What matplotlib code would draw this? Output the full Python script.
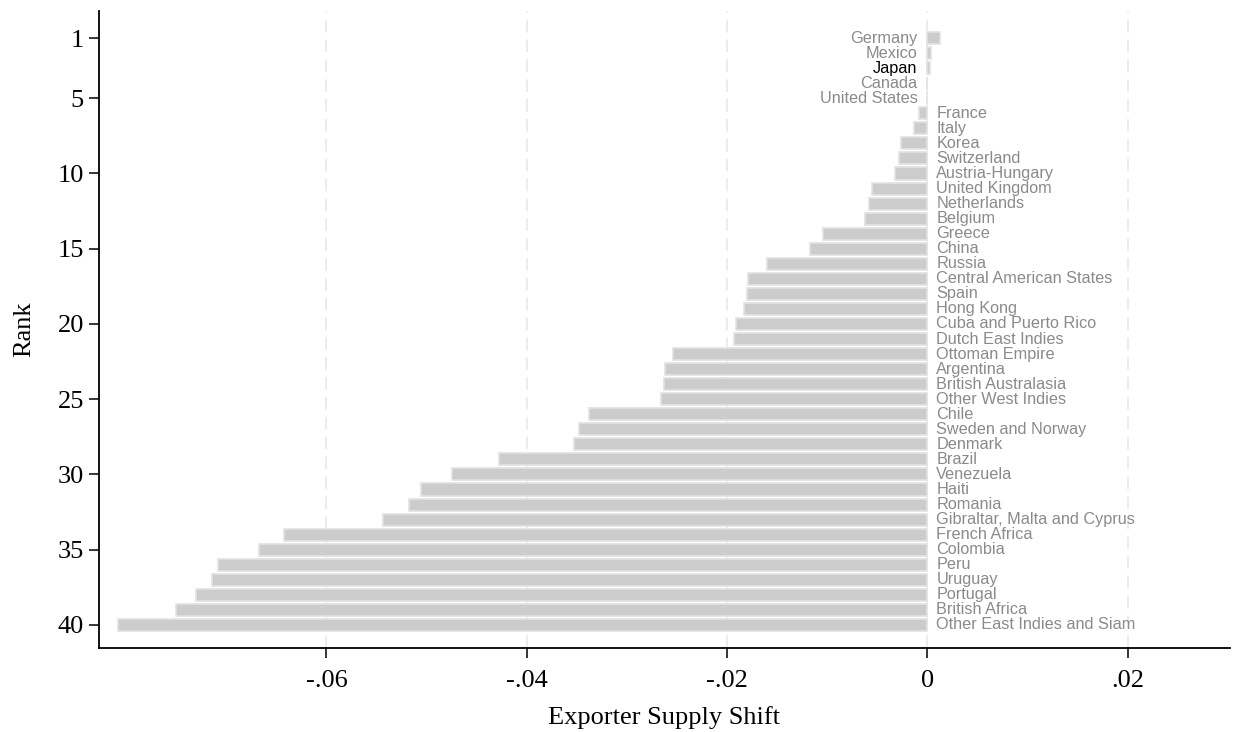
import matplotlib
matplotlib.use("Agg")
import matplotlib.pyplot as plt

# data
countries = [
    "Germany", "Mexico", "Japan", "Canada", "United States",
    "France", "Italy", "Korea", "Switzerland", "Austria-Hungary",
    "United Kingdom", "Netherlands", "Belgium", "Greece", "China",
    "Russia", "Central American States", "Spain", "Hong Kong", "Cuba and Puerto Rico",
    "Dutch East Indies", "Ottoman Empire", "Argentina", "British Australasia", "Other West Indies",
    "Chile", "Sweden and Norway", "Denmark", "Brazil", "Venezuela",
    "Haiti", "Romania", "Gibraltar, Malta and Cyprus", "French Africa", "Colombia",
    "Peru", "Uruguay", "Portugal", "British Africa", "Other East Indies and Siam",
]
ranks = list(range(1, 41))
shift = [
    0.0013, 0.0004, 0.0003, 0.0, 0.0,
    -0.0008, -0.0013, -0.0026, -0.0028, -0.0032,
    -0.0055, -0.0058, -0.0062, -0.0104, -0.0117,
    -0.0160, -0.0179, -0.0180, -0.0183, -0.0191,
    -0.0193, -0.0254, -0.0262, -0.0263, -0.0266,
    -0.0338, -0.0348, -0.0353, -0.0428, -0.0475,
    -0.0506, -0.0518, -0.0543, -0.0642, -0.0667,
    -0.0708, -0.0714, -0.0730, -0.0750, -0.0808,
]
highlight = "Japan"
xticks = [-0.06, -0.04, -0.02, 0, 0.02]
xtick_labels = ["-.06", "-.04", "-.02", "0", ".02"]
yticks = [1, 5, 10, 15, 20, 25, 30, 35, 40]

serif = "Liberation Serif"
sans = "Liberation Sans"

fig = plt.figure(figsize=(12.46, 7.32), dpi=100)
ax = fig.add_axes([0.0795, 0.1148, 0.9075, 0.870])

# dashed vertical grid
for xv in xticks:
    ax.axvline(xv, color="#ebebeb", linewidth=1.3, linestyle=(0, (7, 4)), zorder=0)

ax.barh(ranks, shift, height=0.8, color="#cccccc", edgecolor="#e2e2e2",
        linewidth=1.2, zorder=2)

# country labels next to the bars
for name, r, v in zip(countries, ranks, shift):
    col = "black" if name == highlight else "#8a8a8a"
    if v > 0 or name in ("Canada", "United States"):
        ax.annotate(name, (0, r), xytext=(-7, 0), textcoords="offset points",
                    ha="right", va="center", fontsize=11.7, family=sans, color=col)
    else:
        ax.annotate(name, (0, r), xytext=(6.5, 0), textcoords="offset points",
                    ha="left", va="center", fontsize=11.7, family=sans, color=col)

ax.set_xlim(-0.0827, 0.0302)
ax.set_ylim(41.53, -0.79)

ax.set_xticks(xticks)
ax.set_xticklabels(xtick_labels, family=serif, fontsize=19)
ax.set_yticks(yticks)
ax.set_yticklabels([str(t) for t in yticks], family=serif, fontsize=19)
ax.tick_params(axis="x", length=7, width=1.1, pad=9, color="black")
ax.tick_params(axis="y", length=7, width=1.1, pad=4, color="black")

ax.set_xlabel("Exporter Supply Shift", family=serif, fontsize=19, labelpad=10)
ax.set_ylabel("Rank", family=serif, fontsize=19, labelpad=16)

for side in ["top", "right"]:
    ax.spines[side].set_visible(False)
for side in ["left", "bottom"]:
    ax.spines[side].set_linewidth(1.3)

fig.savefig("out.png", dpi=100)
